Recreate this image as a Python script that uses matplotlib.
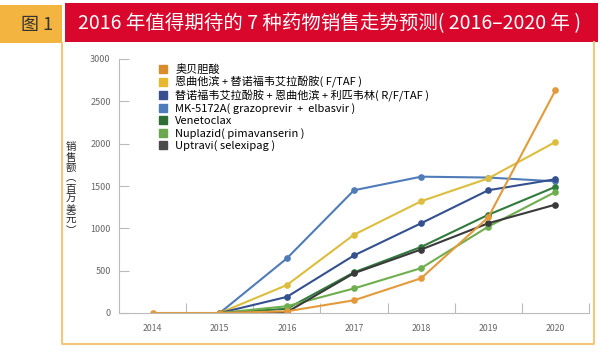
import matplotlib
matplotlib.use("Agg")
import matplotlib.pyplot as plt
import numpy as np
from matplotlib.lines import Line2D
from matplotlib.patches import Rectangle

plt.rcParams['font.family'] = ['Noto Sans CJK SC', 'DejaVu Sans']

years = [2014, 2015, 2016, 2017, 2018, 2019, 2020]
nan = np.nan

# 预测销售额 (百万美元)
ocaliva = [0, 0, 20, 150, 410, 1130, 2630]
f_taf = [nan, 0, 330, 925, 1320, 1590, 2020]
r_f_taf = [nan, 0, 190, 680, 1060, 1450, 1580]
mk5172a = [nan, 0, 645, 1450, 1610, 1600, 1555]
venetoclax = [nan, 0, 50, 480, 780, 1160, 1490]
nuplazid = [nan, 0, 80, 290, 530, 1020, 1430]
uptravi = [nan, 0, 10, 470, 750, 1060, 1280]

labels = ["奥贝胆酸",
          "恩曲他滨 + 替诺福韦艾拉酚胺( F/TAF )",
          "替诺福韦艾拉酚胺 + 恩曲他滨 + 利匹韦林( R/F/TAF )",
          "MK-5172A( grazoprevir  +  elbasvir )",
          "Venetoclax",
          "Nuplazid( pimavanserin )",
          "Uptravi( selexipag )"]
series = [ocaliva, f_taf, r_f_taf, mk5172a, venetoclax, nuplazid, uptravi]
line_colors = ["#e39a3b", "#dcbd3e", "#34508e", "#4f7cb8", "#2f7a3c", "#6fae4f", "#3a3a3a"]
legend_colors = ["#d98c2b", "#e6b830", "#3a4f8f", "#4f7bbd", "#2f6e35", "#6aa84f", "#4a4a4a"]
# draw order: orange on top
order = [3, 1, 2, 4, 5, 6, 0]

fig = plt.figure(figsize=(6, 3.53), dpi=100)
W, H = 600, 353

def fx(px):
    return px / W

def fy(py):
    return 1 - py / H

# title bar
fig.patches.append(Rectangle((0, fy(43)), fx(62), (43 - 5) / H, transform=fig.transFigure,
                             facecolor="#f3b53f", edgecolor="none"))
fig.patches.append(Rectangle((fx(65), fy(42)), fx(598 - 65), (42 - 3) / H, transform=fig.transFigure,
                             facecolor="#d9072c", edgecolor="none"))
fig.text(fx(37), fy(25), "图 1", color="#333333", fontsize=13, ha="center", va="center")
fig.text(fx(78), fy(24), "2016 年值得期待的 7 种药物销售走势预测( 2016–2020 年 )",
         color="white", fontsize=14, ha="left", va="center")

# frame
frame_c = "#f2c77a"
fig.add_artist(Line2D([fx(62), fx(62), fx(594), fx(594)], [fy(43), fy(344), fy(344), fy(42)],
                      transform=fig.transFigure, color=frame_c, lw=1.5))

ax = fig.add_axes([fx(119), fy(313), fx(589 - 119), (313 - 59) / H])
for i in order:
    ax.plot(years, series[i], color=line_colors[i], lw=1.5, marker="o", markersize=3.8)

ax.set_xlim(2013.5, 2020.5)
ax.set_ylim(0, 3000)
ax.set_xticks(years)
ax.set_xticks(np.arange(2014.5, 2021, 1), minor=True)
ax.tick_params(axis="x", which="major", length=0, labelsize=6.3, labelcolor="#666666", pad=8)
ax.tick_params(axis="x", which="minor", direction="in", length=7.5, color="#bbbbbb", width=0.8)
ax.set_yticks([0, 500, 1000, 1500, 2000, 2500, 3000])
ax.tick_params(axis="y", direction="in", length=7, color="#bbbbbb", width=0.8,
               labelsize=6.5, labelcolor="#666666", pad=6)
for s in ["top", "right"]:
    ax.spines[s].set_visible(False)
for s in ["left", "bottom"]:
    ax.spines[s].set_color("#bbbbbb")
    ax.spines[s].set_linewidth(0.8)

fig.text(fx(71), fy(189), "销\n售\n额\n︵\n百\n万\n美\n元\n︶", fontsize=7.5,
         linespacing=1.05, ha="center", va="center", color="#222222")

handles = [Line2D([], [], linestyle="none", marker="s", markersize=6, color=c) for c in legend_colors]
fig.legend(handles, labels, loc="upper left", bbox_to_anchor=(fx(152), fy(58)), frameon=False,
           fontsize=8, labelspacing=0.15, handlelength=1.0, handletextpad=0.6, borderpad=0)

fig.savefig("out.png", dpi=100)
